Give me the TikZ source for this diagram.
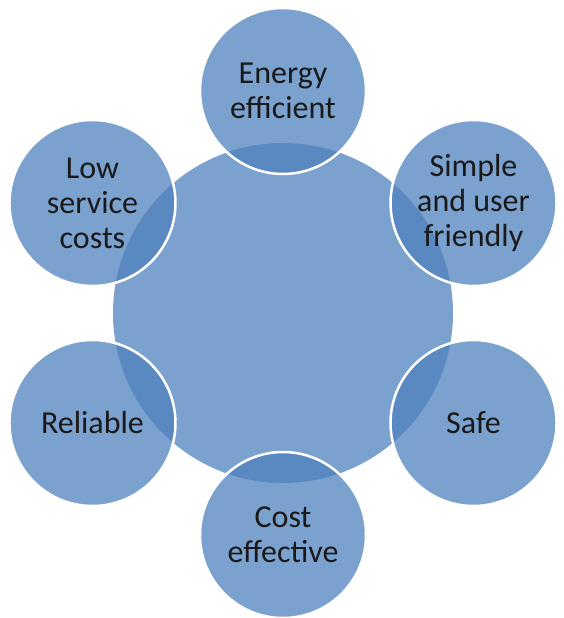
\documentclass[tikz,border=0pt]{standalone}
\usepackage{fontspec}
\setmainfont{Carlito}
\definecolor{radialblue}{RGB}{79,129,189}

\begin{document}
\begin{tikzpicture}[x=1pt,y=1pt,
	hub/.style={circle, minimum size=340pt, inner sep=0pt, fill=radialblue, fill opacity=0.75},
	leaf/.style={circle, minimum size=166pt, inner sep=0pt, fill=radialblue, fill opacity=0.75,
		draw=white, line width=2.5pt, text opacity=1, text=black!90, align=center,
		font=\fontsize{32}{35}\selectfont}]
\useasboundingbox (-283,-305) rectangle (280,313);
\node[hub] (hub) at (0,0) {}; % centre disc
\node[leaf] (energy) at (90:222) {Energy\\efficient}; % top
\node[leaf] (simple) at (30:220) {Simple\\and user\\friendly}; % upper right
\node[leaf] (safe) at (-30:220) {Safe}; % lower right
\node[leaf] (cost) at (-90:222) {Cost\\effective}; % bottom
\node[leaf] (reliable) at (-150:220) {Reliable}; % lower left
\node[leaf] (service) at (150:220) {Low\\service\\costs}; % upper left
\end{tikzpicture}
\end{document}
